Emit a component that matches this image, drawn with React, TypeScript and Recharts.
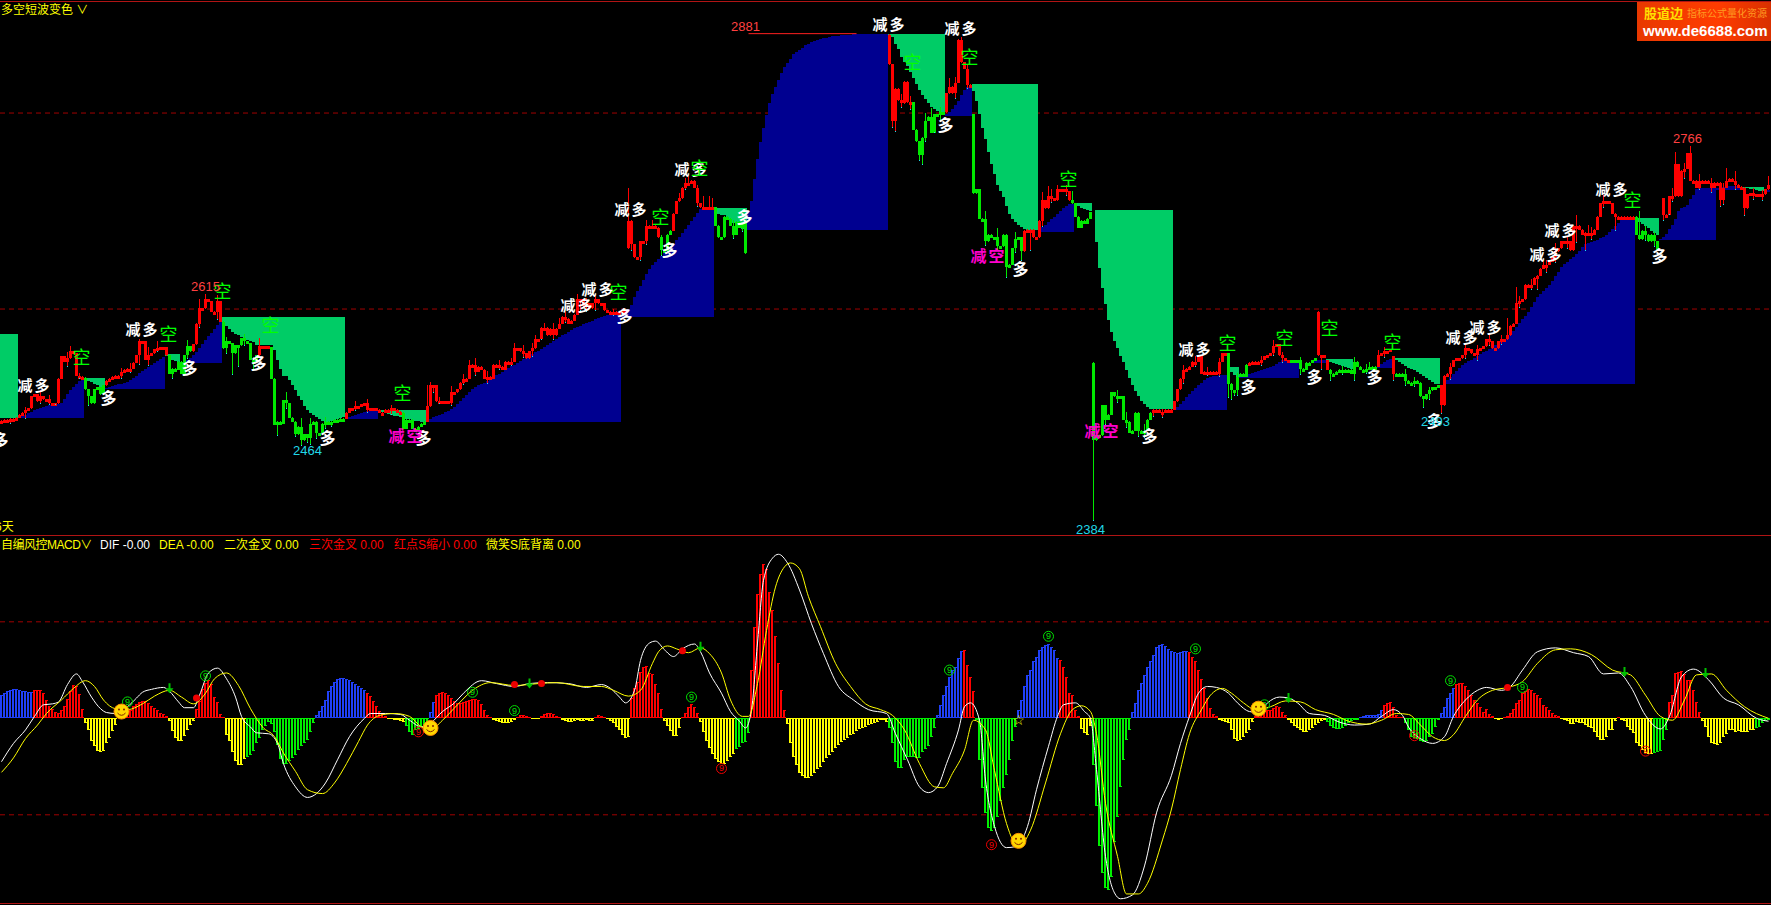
import { Bar, CartesianGrid, Cell, ComposedChart, Line, ReferenceDot, ReferenceLine, XAxis, YAxis } from "recharts";

const barCount = 590;
const chartWidth = 1770;

// trailing-stop blocks: "long" grows up from a base, "short" hangs from a ceiling
const bandBlocks = [
  { kind: "short", start: 0, edge: 2575, levels: [2489, 2489, 2489, 2489, 2489, 2489] },
  { kind: "long", start: 6, edge: 2489, levels: [2490, 2491, 2492, 2494, 2495, 2497, 2498, 2499, 2500, 2501, 2502, 2502, 2502, 2503, 2504, 2508, 2513, 2517, 2520, 2524, 2527, 2530] },
  { kind: "short", start: 28, edge: 2530, levels: [2528, 2527, 2526, 2524, 2522, 2520, 2519] },
  { kind: "long", start: 35, edge: 2518, levels: [2519, 2520, 2521, 2522, 2523, 2524, 2525, 2526, 2528, 2530, 2532, 2535, 2537, 2539, 2541, 2543, 2545, 2547, 2549, 2551] },
  { kind: "short", start: 55, edge: 2554, levels: [2552, 2550, 2548, 2547, 2546] },
  { kind: "long", start: 60, edge: 2545, levels: [2546, 2547, 2548, 2550, 2553, 2556, 2560, 2564, 2568, 2572, 2576, 2580, 2584, 2587] },
  { kind: "short", start: 74, edge: 2592, levels: [2585, 2583, 2580, 2577, 2575, 2573, 2571, 2569, 2568, 2567, 2566, 2563, 2563, 2563, 2563, 2563, 2563, 2558, 2548, 2539, 2532, 2532, 2528, 2522, 2517, 2511, 2507, 2501, 2497, 2494, 2492, 2490, 2488, 2486, 2485, 2485, 2486, 2487, 2488, 2489, 2490] },
  { kind: "long", start: 115, edge: 2488, levels: [2489, 2490, 2491, 2492, 2493, 2494, 2495, 2496, 2496, 2497, 2497] },
  { kind: "short", start: 126, edge: 2497, levels: [2496, 2495, 2494, 2493, 2492, 2491, 2491, 2490, 2489, 2488, 2488, 2487, 2486, 2486, 2485, 2485] },
  { kind: "long", start: 142, edge: 2485, levels: [2486, 2488, 2490, 2491, 2492, 2493, 2495, 2496, 2498, 2500, 2503, 2506, 2509, 2512, 2515, 2518, 2520, 2522, 2524, 2525, 2527, 2529, 2531, 2533, 2534, 2536, 2538, 2540, 2542, 2543, 2545, 2547, 2549, 2551, 2552, 2554, 2556, 2557, 2559, 2561, 2563, 2565, 2567, 2569, 2571, 2573, 2575, 2577, 2579, 2581, 2582, 2583, 2585, 2586, 2587, 2588, 2590, 2591, 2592, 2593, 2594, 2594, 2595, 2595, 2596] },
  { kind: "long", start: 207, edge: 2592, levels: [2594, 2597, 2600, 2604, 2612, 2618, 2624, 2630, 2636, 2641, 2645, 2648, 2651, 2654, 2657, 2660, 2663, 2666, 2670, 2674, 2678, 2682, 2686, 2690, 2694, 2698, 2702, 2704, 2704, 2704, 2703] },
  { kind: "short", start: 238, edge: 2703, levels: [2700, 2697, 2696, 2696, 2694, 2691, 2688, 2686, 2684, 2682, 2681] },
  { kind: "long", start: 249, edge: 2681, levels: [2700, 2710, 2733, 2753, 2770, 2785, 2798, 2810, 2819, 2827, 2834, 2841, 2847, 2851, 2855, 2860, 2862, 2864, 2866, 2869, 2870, 2872, 2873, 2875, 2876, 2877, 2877, 2878, 2879, 2879, 2879, 2880, 2880, 2880, 2880, 2881, 2881, 2881, 2881, 2881, 2881, 2881, 2881, 2881, 2881, 2881, 2881] },
  { kind: "short", start: 296, edge: 2881, levels: [2880, 2878, 2870, 2865, 2857, 2852, 2848, 2842, 2836, 2830, 2824, 2818, 2814, 2810, 2806, 2804, 2802, 2801, 2800] },
  { kind: "long", start: 315, edge: 2797, levels: [2799, 2801, 2804, 2808, 2812, 2818, 2824, 2827, 2828] },
  { kind: "short", start: 324, edge: 2830, levels: [2822, 2812, 2799, 2785, 2773, 2760, 2748, 2738, 2727, 2720, 2714, 2705, 2697, 2692, 2689, 2686, 2684, 2682, 2681, 2681, 2681, 2681] },
  { kind: "long", start: 346, edge: 2679, levels: [2681, 2684, 2686, 2689, 2692, 2694, 2697, 2700, 2703, 2705, 2707, 2707] },
  { kind: "short", start: 358, edge: 2708, levels: [2706, 2705, 2703, 2702, 2701, 2700] },
  { kind: "short", start: 365, edge: 2701, levels: [2668, 2642, 2621, 2605, 2589, 2577, 2567, 2560, 2552, 2546, 2538, 2530, 2522, 2516, 2511, 2506, 2503, 2500, 2498, 2498, 2498, 2498, 2498, 2498, 2498, 2498] },
  { kind: "long", start: 391, edge: 2497, levels: [2498, 2500, 2503, 2506, 2510, 2513, 2516, 2519, 2522, 2525, 2528, 2530, 2531, 2532, 2532, 2533, 2533, 2533] },
  { kind: "short", start: 409, edge: 2541, levels: [2540, 2536, 2533, 2531] },
  { kind: "long", start: 413, edge: 2530, levels: [2531, 2532, 2533, 2534, 2535, 2536, 2537, 2538, 2539, 2540, 2541, 2542, 2544, 2546, 2548, 2548, 2548, 2548, 2548, 2548] },
  { kind: "long", start: 437, edge: 2545, levels: [2548, 2548, 2548, 2548, 2548] },
  { kind: "short", start: 442, edge: 2549, levels: [2547, 2546, 2545, 2544, 2543, 2542, 2541, 2540, 2539] },
  { kind: "long", start: 459, edge: 2540, levels: [2542, 2544, 2546, 2548, 2549] },
  { kind: "short", start: 464, edge: 2550, levels: [2549, 2548, 2546, 2544, 2542, 2540, 2539, 2538, 2536, 2534, 2532, 2530, 2528, 2526, 2524, 2523] },
  { kind: "long", start: 480, edge: 2523, levels: [2524, 2526, 2528, 2531, 2534, 2537, 2540, 2543, 2545, 2547, 2548, 2550, 2552, 2554, 2556, 2557, 2559, 2561, 2563, 2565, 2567, 2569, 2572, 2575, 2578, 2582, 2586, 2590, 2593, 2597, 2602, 2607, 2612, 2615, 2618, 2621, 2625, 2629, 2634, 2638, 2643, 2646, 2648, 2651, 2653, 2656, 2659, 2663, 2666, 2667, 2668, 2669, 2670, 2672, 2674, 2676, 2679, 2682, 2685, 2688, 2691, 2693, 2694, 2694, 2694] },
  { kind: "short", start: 545, edge: 2693, levels: [2691, 2689, 2687, 2685, 2683, 2680, 2678, 2676] },
  { kind: "long", start: 553, edge: 2670, levels: [2671, 2674, 2677, 2682, 2686, 2692, 2700, 2703, 2704, 2706, 2712, 2716, 2722, 2723, 2723, 2724, 2724, 2724, 2723] },
  { kind: "long", start: 572, edge: 2721, levels: [2723, 2724, 2725, 2725, 2726, 2726, 2726, 2726, 2725] },
  { kind: "short", start: 581, edge: 2725, levels: [2724, 2723, 2722, 2722, 2721, 2720, 2720] },
  { kind: "long", start: 588, edge: 2719, levels: [2721, 2721] },
];

const closeSegments = [
  { start: 0, values: [2486, 2487, 2486, 2488, 2487, 2489, 2492, 2494, 2497, 2499, 2511, 2513, 2506, 2511, 2508, 2508, 2504, 2503, 2504, 2529, 2552, 2546, 2550, 2557, 2555, 2532, 2531, 2530, 2518, 2511, 2504, 2518, 2520, 2513, 2522] },
  { start: 35, values: [2527, 2529, 2531, 2532, 2532, 2536, 2538, 2539, 2539, 2545, 2553, 2567, 2567, 2548, 2553, 2555, 2559, 2560, 2561, 2561, 2553, 2534, 2539, 2538, 2546, 2534, 2553, 2562, 2557, 2564, 2585, 2601, 2601, 2610, 2608, 2597, 2597, 2608, 2587] },
  { start: 74, values: [2560, 2567, 2565, 2555, 2563, 2563, 2570, 2567, 2565, 2548, 2546, 2553, 2562, 2562, 2562, 2561, 2529, 2482, 2485, 2483, 2507, 2504, 2489, 2485, 2472, 2480, 2466, 2472, 2468, 2483, 2485, 2473, 2473, 2483, 2485, 2485, 2485, 2487, 2487, 2488, 2488] },
  { start: 115, values: [2494, 2499, 2499, 2501, 2501, 2503, 2504, 2497, 2499, 2499, 2497, 2494, 2494, 2497, 2497, 2499, 2497, 2495, 2494, 2478, 2487, 2487, 2478, 2476, 2480, 2483, 2485] },
  { start: 142, values: [2501, 2522, 2522, 2506, 2506, 2506, 2506, 2504, 2515, 2515, 2518, 2525, 2529, 2529, 2543, 2543, 2536, 2541, 2538, 2529, 2531, 2529, 2543, 2543, 2541, 2538, 2546, 2546, 2546, 2560, 2560, 2557, 2555, 2550, 2557, 2560, 2569, 2569, 2581, 2581, 2573, 2580, 2573, 2580, 2585, 2592, 2590, 2585, 2588, 2594, 2610, 2610, 2603, 2606] },
  { start: 196, values: [2601, 2606, 2610, 2606, 2606, 2599, 2597, 2597, 2597, 2597, 2596, 2599, 2599] },
  { start: 209, values: [2690, 2666, 2653, 2653, 2669, 2669, 2685, 2685, 2685, 2683, 2673, 2660, 2659, 2676, 2680, 2697, 2710, 2713, 2724, 2729, 2729, 2731, 2724, 2708, 2704, 2704, 2704, 2704, 2704] },
  { start: 238, values: [2685, 2673, 2673, 2694, 2692, 2685, 2676, 2689, 2683, 2687, 2657] },
  { start: 296, values: [2850, 2792, 2825, 2813, 2810, 2832, 2811, 2811, 2783, 2771, 2757, 2775, 2792, 2796, 2780, 2799, 2799, 2801, 2801, 2820, 2827, 2820, 2831, 2875, 2852, 2845, 2829, 2829] },
  { start: 324, values: [2718, 2722, 2692, 2692, 2669, 2676, 2673, 2673, 2664, 2664, 2676, 2643, 2645, 2662, 2671, 2673, 2659, 2680, 2681, 2681, 2673, 2673] },
  { start: 346, values: [2690, 2711, 2703, 2715, 2713, 2711, 2722, 2722, 2722, 2720, 2711, 2708, 2694, 2683, 2690, 2687, 2692, 2699, 2466] },
  { start: 365, values: [2471, 2471, 2502, 2487, 2492, 2515, 2511, 2511, 2511, 2487, 2485, 2474, 2476, 2494, 2476, 2474, 2476, 2487, 2494, 2497, 2497, 2495, 2494, 2497, 2495, 2497] },
  { start: 391, values: [2506, 2518, 2529, 2538, 2539, 2541, 2546, 2546, 2552, 2534, 2536, 2536, 2536, 2536, 2534, 2546, 2555, 2555] },
  { start: 409, values: [2524, 2517, 2517, 2531, 2534, 2531, 2543] },
  { start: 416, values: [2545, 2546, 2546, 2546, 2548, 2552, 2553, 2555, 2562, 2564, 2553, 2550, 2548, 2548, 2548, 2548, 2548, 2539, 2538, 2545, 2545, 2548, 2550] },
  { start: 439, values: [2553, 2553, 2553, 2538] },
  { start: 443, values: [2534, 2534, 2536, 2538, 2538, 2536, 2538, 2534, 2546, 2541, 2538, 2538, 2539, 2541, 2541, 2541, 2553, 2555, 2557, 2557, 2559, 2534] },
  { start: 465, values: [2531, 2534, 2534, 2527, 2525, 2525, 2527, 2525, 2511, 2508, 2513, 2517, 2520, 2520, 2522, 2502] },
  { start: 481, values: [2532, 2534, 2541, 2548, 2550, 2550, 2553, 2560, 2559, 2555, 2553, 2559, 2560, 2562, 2569, 2567, 2560, 2560, 2567, 2569, 2569, 2573, 2583, 2585, 2606, 2608, 2610, 2625, 2625, 2625, 2632, 2634, 2641, 2645, 2645, 2648, 2653, 2659, 2662, 2669, 2669, 2669, 2660, 2685, 2685, 2681, 2676, 2678, 2678, 2676, 2681, 2694, 2708, 2710, 2710, 2708, 2697, 2694, 2694, 2694, 2694, 2694, 2694, 2694] },
  { start: 545, values: [2676, 2671, 2680, 2676, 2669, 2676, 2669, 2660] },
  { start: 554, values: [2696, 2696, 2715, 2715, 2748, 2715, 2741, 2743, 2759, 2731, 2731, 2724, 2731, 2729, 2731, 2729, 2724, 2729, 2729, 2711, 2724, 2731, 2733, 2731, 2727, 2725, 2725, 2703, 2717, 2718, 2717, 2717, 2715, 2717, 2722, 2727] },
];

// bars whose open does not sit on the previous close
const gapOpens = [[209, 2662], [296, 2880], [324, 2799], [364, 2545], [439, 2597], [442, 2548], [464, 2552], [480, 2522], [554, 2713], [581, 2724]];
const wickHighs = [[23, 2562], [46, 2569], [68, 2615], [142, 2522], [143, 2525], [156, 2548], [171, 2565], [178, 2573], [181, 2585], [186, 2590], [192, 2615], [209, 2723], [217, 2690], [226, 2718], [229, 2735], [234, 2715], [236, 2715], [237, 2713], [310, 2805], [316, 2835], [320, 2877], [349, 2725], [352, 2726], [357, 2720], [456, 2545], [459, 2558], [502, 2590], [505, 2622], [514, 2650], [525, 2695], [529, 2685], [546, 2700], [558, 2760], [563, 2766], [575, 2743], [589, 2735]];
const wickLows = [[3, 2483], [18, 2518], [29, 2502], [46, 2543], [57, 2529], [77, 2533], [79, 2541], [92, 2471], [98, 2470], [102, 2464], [105, 2468], [110, 2480], [144, 2515], [180, 2573], [193, 2598], [210, 2660], [213, 2650], [222, 2665], [297, 2785], [298, 2781], [306, 2752], [307, 2747], [311, 2780], [335, 2632], [340, 2650], [343, 2660], [364, 2384], [368, 2482], [379, 2470], [384, 2490], [409, 2510], [410, 2508], [411, 2512], [440, 2538], [443, 2527], [464, 2527], [474, 2500], [480, 2493], [512, 2620], [525, 2668], [528, 2660], [538, 2680], [554, 2690], [556, 2706], [573, 2705], [581, 2695]];
// short shadows on ordinary bars: bar, points above the body, points below it
const smallWicks = [[8, 3, 6], [13, 6, 3], [16, 4, 2], [22, 6, 5], [26, 3, 2], [40, 4, 3], [43, 6, 4], [49, 8, 6], [52, 7, 3], [62, 6, 4], [66, 9, 4], [72, 6, 8], [75, 4, 6], [81, 5, 5], [84, 3, 8], [86, 8, 3], [95, 8, 6], [100, 9, 6], [103, 6, 7], [108, 5, 5], [118, 5, 3], [122, 4, 3], [130, 3, 5], [146, 4, 3], [150, 6, 3], [154, 5, 3], [158, 7, 4], [162, 6, 5], [166, 5, 3], [170, 4, 4], [174, 6, 5], [177, 5, 6], [184, 6, 5], [188, 5, 4], [195, 5, 6], [198, 4, 8], [204, 3, 4], [215, 6, 4], [220, 3, 6], [228, 5, 3], [232, 3, 4], [244, 6, 5], [247, 2, 4], [300, 6, 5], [303, 6, 8], [308, 8, 5], [313, 5, 7], [318, 6, 6], [322, 4, 4], [328, 8, 5], [332, 10, 5], [338, 8, 5], [347, 8, 6], [350, 7, 5], [355, 5, 5], [372, 6, 7], [375, 8, 6], [381, 7, 6], [387, 3, 5], [394, 5, 6], [398, 6, 5], [402, 5, 4], [406, 4, 3], [412, 4, 6], [420, 4, 4], [424, 6, 3], [427, 3, 5], [433, 3, 6], [447, 4, 5], [451, 5, 7], [455, 5, 4], [461, 4, 5], [468, 5, 6], [471, 4, 5], [476, 3, 6], [483, 4, 6], [488, 5, 4], [492, 4, 6], [496, 5, 5], [500, 4, 4], [506, 5, 5], [510, 6, 6], [515, 5, 8], [518, 8, 6], [522, 6, 8], [530, 6, 6], [534, 6, 5], [548, 5, 7], [551, 3, 6], [557, 8, 6], [561, 6, 8], [566, 7, 3], [570, 5, 6], [574, 5, 5], [578, 10, 6], [584, 6, 6], [587, 4, 5]];
const greenCandleRuns = [[28, 34], [56, 63], [74, 85], [90, 114], [134, 141], [220, 223], [238, 248], [304, 314], [324, 340], [357, 383], [409, 415], [430, 438], [443, 458], [465, 479], [545, 552]];

const macdRuns = [
  { kind: "blue", start: 0, values: [24, 26, 28, 29, 30, 30, 29, 28, 28, 27, 27] },
  { kind: "red", start: 11, values: [29, 29, 29, 26, 19, 13, 10, 7, 5, 9, 13, 20, 28, 35, 33, 25, 10] },
  { kind: "yellow", start: 28, values: [-5, -12, -24, -29, -34, -35, -34, -26, -20, -13, -7] },
  { kind: "red", start: 39, values: [2, 4, 5, 7, 9, 13, 15, 17, 18, 18, 16, 13, 11, 9, 6, 4, 2] },
  { kind: "yellow", start: 56, values: [-3, -13, -20, -23, -23, -18, -12, -7, -3] },
  { kind: "red", start: 65, values: [10, 18, 30, 37, 40, 36, 22, 17, 4, 1] },
  { kind: "yellow", start: 75, values: [-17, -24, -35, -44, -48, -48, -42] },
  { kind: "green", start: 82, values: [-40, -38, -34, -26, -20, -12, -8, -4, -6, -14, -28, -42, -47, -47, -44, -41, -38, -33, -29, -26, -22, -14, -5] },
  { kind: "blue", start: 105, values: [3, 8, 13, 19, 28, 33, 38, 41, 42, 42, 41, 40, 38, 36, 34, 31, 29] },
  { kind: "red", start: 122, values: [26, 23, 18, 13, 8, 4, 2] },
  { kind: "yellow", start: 129, values: [-1, -1, -2, -2, -3, -4] },
  { kind: "green", start: 135, values: [-8, -14, -17, -12, -11, -9, -7, -5] },
  { kind: "blue", start: 143, values: [7, 17] },
  { kind: "red", start: 145, values: [24, 26, 27, 26, 24, 21, 18, 16, 16, 17, 18, 19, 20, 20, 19, 15, 9, 3, 1] },
  { kind: "yellow", start: 164, values: [-2, -3, -4, -5, -5, -5, -4, -2] },
  { kind: "red", start: 172, values: [1, 3, 3, 2, 1] },
  { kind: "yellow", start: 177, values: [-1, -1, -1] },
  { kind: "red", start: 180, values: [2, 4, 5, 5, 4, 2, 1] },
  { kind: "yellow", start: 187, values: [-2, -3, -4, -4, -3, -2, -3, -3, -2, -3, -3] },
  { kind: "red", start: 198, values: [1, 3, 2, 1] },
  { kind: "yellow", start: 202, values: [-1, -3, -5, -9, -12, -17, -20, -19] },
  { kind: "red", start: 210, values: [21, 31, 38, 48, 53, 54, 47, 46, 36, 26, 10] },
  { kind: "yellow", start: 221, values: [-3, -8, -13, -18, -18, -10] },
  { kind: "red", start: 227, values: [1, 5, 12, 15, 12, 6] },
  { kind: "yellow", start: 233, values: [-4, -14, -23, -31, -37, -42, -45, -47, -47, -44, -40, -37] },
  { kind: "green", start: 245, values: [-32, -30, -26, -25, -15] },
  { kind: "red", start: 250, values: [50, 95, 129, 150, 160, 155, 131, 112, 85, 57, 29, 9] },
  { kind: "yellow", start: 262, values: [-6, -26, -40, -48, -57, -60, -62, -62, -60, -57, -53, -50, -45, -41, -38, -35, -31, -28, -25, -22, -20, -17, -16, -13, -11, -10, -9, -7, -6, -5, -4, -2, -2, -4] },
  { kind: "green", start: 296, values: [-10, -26, -45, -52, -52, -43, -40, -40, -40, -41, -41, -35, -32, -29, -19, -10] },
  { kind: "blue", start: 312, values: [3, 14, 24, 33, 43, 50, 53, 62, 70] },
  { kind: "red", start: 321, values: [71, 55, 43, 28] },
  { kind: "green", start: 325, values: [-2, -43, -72, -98, -114, -117, -114, -102, -86, -72, -59, -43, -24, -9] },
  { kind: "blue", start: 339, values: [9, 19, 33, 45, 50, 59, 64, 71, 74, 76, 77, 74, 71, 62] },
  { kind: "red", start: 353, values: [60, 53, 43, 26, 24, 9, 2] },
  { kind: "yellow", start: 360, values: [-11, -15, -17, -8] },
  { kind: "green", start: 364, values: [-48, -91, -132, -160, -176, -178, -164, -128, -102, -71, -43, -22, -12] },
  { kind: "blue", start: 377, values: [7, 16, 29, 37, 45, 53, 59, 66, 74, 76, 77, 75, 72, 70, 69, 68, 69, 70, 70] },
  { kind: "red", start: 396, values: [69, 64, 59, 50, 41, 31, 21, 11, 4, 2] },
  { kind: "yellow", start: 406, values: [-2, -3, -4, -5, -12, -21, -23, -22, -19, -15, -12, -4] },
  { kind: "red", start: 418, values: [2, 5, 6, 8, 9, 9, 11, 13, 12, 7, 3] },
  { kind: "yellow", start: 429, values: [-2, -5, -8, -10, -12, -14, -14, -12, -10, -7, -5, -3, -2] },
  { kind: "green", start: 442, values: [-4, -8, -10, -11, -11, -10, -8, -5, -3, -2, -2] },
  { kind: "blue", start: 453, values: [1, 2, 3, 3, 3, 3, 4, 9] },
  { kind: "red", start: 461, values: [14, 16, 17, 12, 3, 1, 1] },
  { kind: "green", start: 468, values: [-5, -12, -19, -20, -21, -24, -25, -24, -19, -16, -9, -2] },
  { kind: "blue", start: 480, values: [5, 12, 21, 26, 31] },
  { kind: "red", start: 485, values: [36, 37, 37, 33, 29, 24, 19, 16, 12, 7, 10, 4, 2] },
  { kind: "yellow", start: 498, values: [-1, -2, -1] },
  { kind: "red", start: 501, values: [1, 2, 5, 10, 16, 19, 26, 28, 30, 29, 26, 24, 21, 14, 12, 9, 5, 3, 2] },
  { kind: "yellow", start: 520, values: [-1, -2, -3, -6, -6, -4, -5, -5, -7, -9, -10, -14, -19, -22, -22, -19, -12, -12, -3] },
  { kind: "red", start: 539, values: [1] },
  { kind: "yellow", start: 540, values: [-2, -3, -9, -12, -15, -26, -29, -33, -36, -37, -37] },
  { kind: "green", start: 551, values: [-36, -35, -34, -22, -12] },
  { kind: "red", start: 556, values: [17, 24, 47, 48, 49, 46, 40, 40, 29, 17, 7] },
  { kind: "yellow", start: 567, values: [-3, -9, -19, -26, -27, -28, -26, -19, -16, -12, -12, -14, -13, -14, -14, -14, -12, -12] },
  { kind: "green", start: 585, values: [-10, -9, -5, -3, -2] },
];

const difPoints = [
  [0, -45], [4, -26], [8, -12], [11, 2], [14, 14], [17, 15], [19, 17], [22, 35], [25, 46], [27, 38], [30, 22], [33, 10], [35, 6], [38, 5], [42, 12], [45, 21], [47, 27], [50, 30], [54, 32], [56, 28], [59, 17], [61, 11], [64, 11], [66, 24], [69, 47], [72, 52], [75, 41], [78, 22], [80, 2], [83, -9], [85, -15], [89, -16], [92, -26], [94, -47], [98, -71], [102, -82], [105, -78], [108, -67], [112, -43], [116, -19], [121, 0], [123, 5], [128, 5], [133, 4], [136, -2], [140, -9], [143, -5], [147, 7], [151, 16], [154, 26], [160, 39], [165, 36], [171, 33], [176, 36], [182, 37], [189, 36], [195, 32],
  [200, 35], [203, 31], [206, 22], [208, 16], [211, 29], [213, 60], [216, 78], [218, 80], [221, 71], [224, 64], [227, 72], [231, 77], [233, 69], [236, 47], [240, 26], [243, 7], [246, -3], [248, -10], [250, 9], [252, 78], [254, 143], [257, 166], [259, 170], [262, 161], [266, 133], [270, 98], [274, 67], [279, 33], [284, 19], [289, 9], [295, 5], [298, -16], [302, -43], [306, -71], [309, -77], [312, -71], [315, -47], [319, -12], [321, 12], [323, 16], [326, -2], [328, -64], [331, -112], [335, -134], [338, -133], [342, -112], [345, -74], [349, -29], [352, 2], [354, 14], [358, 16], [361, 7], [363, 0], [365, -53], [368, -143], [371, -181], [373, -187], [377, -183], [381, -153], [385, -98],
  [390, -59], [393, -26], [396, 2], [399, 26], [402, 33], [405, 32], [409, 26], [412, 16], [416, 7], [419, 6], [422, 16], [426, 22], [429, 21], [432, 16], [436, 5], [441, 3], [446, -4], [451, -7], [456, -6], [460, 2], [464, 9], [467, 3], [469, -9], [473, -21], [477, -26], [481, -19], [484, 2], [488, 19], [492, 29], [495, 32], [500, 29], [503, 33], [507, 50], [512, 69], [518, 73], [524, 68], [529, 64], [534, 46], [539, 47], [543, 33], [548, 3], [553, -11], [556, 2], [560, 43], [564, 51], [569, 40], [574, 21], [579, 14], [585, 0], [589, -3],
];

const deaPoints = [
  [0, -56], [4, -41], [8, -21], [12, -7], [15, 5], [20, 19], [24, 31], [28, 39], [31, 33], [34, 19], [38, 10], [42, 9], [47, 15], [51, 23], [56, 29], [60, 22], [64, 15], [68, 26], [71, 41], [75, 47], [79, 34], [83, 10], [87, -9], [91, -19], [94, -36], [98, -55], [102, -74], [107, -78], [111, -67], [115, -47], [119, -24], [122, -7], [126, 3], [131, 5], [136, 2], [140, -9], [143, -12], [147, -2], [152, 14], [157, 29], [163, 37], [171, 34], [179, 36], [185, 37], [194, 33],
  [200, 33], [204, 29], [209, 23], [213, 29], [217, 57], [219, 69], [222, 75], [225, 72], [229, 68], [233, 73], [236, 67], [240, 47], [243, 19], [247, 2], [249, 2], [252, 36], [255, 91], [258, 136], [261, 157], [263, 161], [266, 155], [269, 126], [273, 95], [278, 57], [283, 33], [288, 15], [293, 9], [297, 3], [301, -12], [306, -47], [311, -71], [314, -72], [317, -57], [321, -33], [324, -2], [328, -12], [331, -54], [335, -109], [339, -133], [343, -116], [348, -67], [353, -16], [357, 9], [360, 13], [363, 7], [365, -16], [368, -88], [372, -143], [375, -182], [379, -182], [382, -171], [387, -126],
  [390, -94], [393, -53], [396, -16], [400, 9], [403, 24], [407, 31], [410, 26], [414, 16], [418, 9], [423, 12], [428, 18], [433, 17], [438, 9], [444, 4], [449, -3], [455, -6], [460, -2], [465, 5], [469, 4], [473, -7], [477, -19], [481, -23], [484, -17], [488, 2], [492, 19], [497, 29], [502, 32], [507, 38], [512, 57], [518, 71], [523, 72], [530, 66], [537, 50], [543, 45], [548, 24], [553, 2], [557, -2], [561, 19], [565, 45], [570, 46], [575, 29], [581, 12], [589, 0],
];

const smileMarks = [[40, 7], [143, -10], [339, -127], [419, 10]];
const nineGreenMarks = [[42, 17], [68, 44], [157, 27], [171, 8], [230, 22], [316, 50], [349, 85], [398, 72], [483, 39], [507, 32], [421, 14]];
const nineRedMarks = [[139, -14], [240, -52], [330, -131], [471, -18], [548, -34]];
const arrowMarks = [[56, 29], [176, 34], [233, 72], [429, 19], [541, 46], [568, 45]];
const redDotMarks = [[65, 21], [171, 35], [180, 36], [227, 70], [502, 32]];
const starMarks = [[339, -2]];

const reduceLongSignals = [[11, 2522], [47, 2579], [192, 2604], [199, 2620], [210, 2702], [230, 2742], [296, 2890], [320, 2886], [398, 2559], [487, 2571], [495, 2581], [515, 2656], [520, 2680], [537, 2722]];
const shortSignals = [[27, 2550], [56, 2573], [74, 2617], [90, 2583], [134, 2513], [206, 2616], [220, 2693], [233, 2743], [304, 2851], [323, 2856], [356, 2732], [409, 2564], [428, 2569], [443, 2580], [464, 2565], [544, 2710]];
const longSignals = [[0, 2466], [36, 2509], [63, 2539], [86, 2544], [109, 2468], [141, 2468], [208, 2592], [223, 2660], [248, 2693], [315, 2787], [340, 2640], [383, 2470], [416, 2520], [438, 2530], [458, 2530], [478, 2485], [553, 2654]];
const reduceShortSignals = [[135, 2470], [329, 2654], [367, 2475]];
const highLabels = [[248, 2888, "2881"], [68, 2623, "2615"], [562, 2774, "2766"]];
const lowLabels = [[102, 2456, "2464"], [363, 2375, "2384"], [478, 2485, "2493"]];

const macdHeader = [
  { left: 100, color: "#ffffff", text: "DIF -0.00" },
  { left: 159, color: "#ffff00", text: "DEA -0.00" },
  { left: 224, color: "#ffff00", text: "二次金叉 0.00" },
  { left: 309, color: "#ff0000", text: "三次金叉 0.00" },
  { left: 394, color: "#ff0000", text: "红点S缩小 0.00" },
  { left: 486, color: "#ffff00", text: "微笑S底背离 0.00" },
];

const histColors: any = { blue: "#2040f8", red: "#ff0000", yellow: "#ffff00", green: "#00f000" };
const fontStack = '"Liberation Sans", "Noto Sans CJK SC", sans-serif';

const rows: any[] = [];
for (let i = 0; i < barCount; i++) rows.push({ i, band: null, bandKind: null, range: null, hist: null, histKind: null, dif: null, dea: null });

bandBlocks.forEach((block) => {
  block.levels.forEach((level, n) => {
    const row = rows[block.start + n];
    row.band = [Math.min(block.edge, level), Math.max(block.edge, level)];
    row.bandKind = block.kind;
  });
});

const closes: any[] = new Array(barCount).fill(null);
closeSegments.forEach((seg) => seg.values.forEach((v, n) => (closes[seg.start + n] = v)));
const openOf = new Map(gapOpens.map((p) => [p[0], p[1]]));
const highOf = new Map(wickHighs.map((p) => [p[0], p[1]]));
const lowOf = new Map(wickLows.map((p) => [p[0], p[1]]));
const smallOf = new Map(smallWicks.map((p) => [p[0], p]));

closes.forEach((close, i) => {
  if (close == null) return;
  const open = openOf.get(i) ?? closes[i - 1] ?? close;
  const small = smallOf.get(i);
  const row = rows[i];
  row.open = open;
  row.close = close;
  row.hasLow = lowOf.has(i) || !!small;
  row.range = [
    Math.min(open, close, lowOf.get(i) ?? close) - (small ? small[2] : 0.5),
    Math.max(open, close, highOf.get(i) ?? close) + (small ? small[1] : 0.5),
  ];
  row.isGreen = greenCandleRuns.some((run) => i >= run[0] && i <= run[1]);
});

macdRuns.forEach((run) => {
  run.values.forEach((v, n) => {
    rows[run.start + n].hist = v;
    rows[run.start + n].histKind = run.kind;
  });
});
difPoints.forEach((p) => (rows[p[0]].dif = p[1]));
deaPoints.forEach((p) => (rows[p[0]].dea = p[1]));

const CandleShape = (props: any) => {
  const { x, y, height, payload } = props;
  if (!payload.range) return null;
  const [low, high] = payload.range;
  const k = height / (high - low);
  const top = y + (high - Math.max(payload.open, payload.close)) * k;
  const bodyH = Math.max(Math.abs(payload.open - payload.close) * k, 3);
  const color = payload.isGreen ? "#00e800" : "#ff0000";
  const hollow = payload.close > payload.open && bodyH > 5;
  return (
    <g shapeRendering="crispEdges">
      <rect x={x + 1} y={y} width={1} height={height} fill={color} />
      {hollow ? (
        <rect x={x + 0.5} y={top + 0.5} width={2} height={bodyH - 1} fill="none" stroke={color} />
      ) : (
        <rect x={x} y={top} width={3} height={bodyH} fill={color} />
      )}
      {payload.hasLow && <rect x={x + 1} y={y + height - 1} width={1} height={1} fill="#20e0f0" />}
    </g>
  );
};

const MacdShape = (props: any) => {
  const { x, y, height, payload } = props;
  if (payload.hist == null) return null;
  const color = histColors[payload.histKind];
  const top = Math.min(y, y + height);
  const h = Math.abs(height);
  return (
    <g shapeRendering="crispEdges" fill={color}>
      <rect x={x} y={top} width={2} height={h} />
      <rect x={x} y={top} width={3} height={1} />
      <rect x={x} y={top + h - 1} width={3} height={1} />
    </g>
  );
};

const signalDot = (key: string, i: number, price: number, draw: (cx: number, cy: number) => any) => (
  <ReferenceDot key={key} x={i} y={price} r={0} ifOverflow="visible" shape={(p: any) => draw(p.cx, p.cy)} />
);

const signalText = (text: string, color: string, weight: number, size: number) => (cx: number, cy: number) => (
  <text x={cx} y={cy} fill={color} fontSize={size} fontWeight={weight} letterSpacing={2} textAnchor="middle" dominantBaseline="central" fontFamily={fontStack}>
    {text}
  </text>
);

const numberText = (text: string, color: string) => (cx: number, cy: number) => (
  <text x={cx} y={cy} fill={color} fontSize={13} textAnchor="middle" dominantBaseline="central" fontFamily={fontStack}>
    {text}
  </text>
);

const drawNine = (color: string) => (cx: number, cy: number) => (
  <g>
    <circle cx={cx} cy={cy} r={5} fill="none" stroke={color} />
    <text x={cx} y={cy} fill={color} fontSize={9} textAnchor="middle" dominantBaseline="central" fontFamily={fontStack}>9</text>
  </g>
);

const drawSmile = (cx: number, cy: number) => (
  <g>
    <circle cx={cx} cy={cy} r={7.5} fill="#ffd800" stroke="#ff8c00" strokeWidth={1} />
    <circle cx={cx - 2.5} cy={cy - 2} r={1} fill="#802000" />
    <circle cx={cx + 2.5} cy={cy - 2} r={1} fill="#802000" />
    <path d={`M${cx - 4} ${cy + 1.5} Q${cx} ${cy + 6} ${cx + 4} ${cy + 1.5}`} fill="none" stroke="#802000" />
  </g>
);

const drawArrow = (cx: number, cy: number) => (
  <path d={`M${cx - 1} ${cy - 7} h2 v5 h3 l-4 5 l-4 -5 h3 z`} fill="#00c000" />
);

const drawRedDot = (cx: number, cy: number) => <circle cx={cx} cy={cy} r={3.5} fill="#ee0000" />;

const drawStar = (cx: number, cy: number) => (
  <text x={cx} y={cy} fill="#ffff00" fontSize={14} textAnchor="middle" dominantBaseline="central" fontFamily="DejaVu Sans">☆</text>
);

const priceDomain = [2368.4, 2913.3];
const priceLayerStyle: any = { position: "absolute", left: 0, top: 2 };
const header: any = { position: "absolute", whiteSpace: "nowrap", fontSize: 12, lineHeight: "14px", fontFamily: fontStack };

const App = () => {
  return (
    <div style={{ position: "absolute", left: 0, top: 0, width: 1771, height: 905, background: "#000", overflow: "hidden" }}>
      <div style={{ position: "absolute", left: 0, top: 1, width: 1771, height: 1, background: "#b01414" }} />
      <div style={{ position: "absolute", left: 0, top: 535, width: 1771, height: 1, background: "#b01414" }} />
      <div style={{ position: "absolute", left: 0, top: 903, width: 1771, height: 1, background: "#b01414" }} />

      <div style={priceLayerStyle}>
        <ComposedChart width={chartWidth} height={534} data={rows} margin={{ top: 0, right: 0, bottom: 0, left: 0 }} barCategoryGap={0} barGap={0}>
          <CartesianGrid vertical={false} horizontalValues={[2600, 2800]} stroke="#a00000" strokeDasharray="5 4" />
          <XAxis dataKey="i" hide />
          <YAxis hide domain={priceDomain} allowDataOverflow />
          <Bar dataKey="band" barSize={3} isAnimationActive={false} shapeRendering="crispEdges">
            {rows.map((row) => (
              <Cell key={row.i} fill={row.bandKind === "long" ? "#000090" : "#00cc66"} />
            ))}
          </Bar>
        </ComposedChart>
      </div>

      <div style={priceLayerStyle}>
        <ComposedChart width={chartWidth} height={534} data={rows} margin={{ top: 0, right: 0, bottom: 0, left: 0 }} barCategoryGap={0} barGap={0}>
          <XAxis dataKey="i" hide />
          <YAxis hide domain={priceDomain} allowDataOverflow />
          <Bar dataKey="range" barSize={3} isAnimationActive={false} shape={CandleShape} />
          <ReferenceLine segment={[{ x: 249, y: 2881 }, { x: 285, y: 2881 }]} stroke="#ff2020" ifOverflow="visible" />
          {reduceLongSignals.map((s, n) => signalDot(`rl${n}`, s[0], s[1], signalText("减多", "#ffffff", 700, 15)))}
          {shortSignals.map((s, n) => signalDot(`sh${n}`, s[0], s[1], signalText("空", "#00ff00", 400, 18)))}
          {longSignals.map((s, n) => signalDot(`lg${n}`, s[0], s[1], signalText("多", "#ffffff", 700, 16)))}
          {reduceShortSignals.map((s, n) => signalDot(`rs${n}`, s[0], s[1], signalText("减空", "#ff00cc", 700, 16)))}
          {highLabels.map((s: any, n) => signalDot(`hi${n}`, s[0], s[1], numberText(s[2], "#ff4040")))}
          {lowLabels.map((s: any, n) => signalDot(`lo${n}`, s[0], s[1], numberText(s[2], "#20d8e8")))}
        </ComposedChart>
      </div>

      <div style={{ position: "absolute", left: 0, top: 537 }}>
        <ComposedChart width={chartWidth} height={366} data={rows} margin={{ top: 0, right: 0, bottom: 0, left: 0 }} barCategoryGap={0} barGap={0}>
          <CartesianGrid vertical={false} horizontalValues={[-100, 100]} stroke="#a00000" strokeDasharray="5 4" />
          <XAxis dataKey="i" hide />
          <YAxis hide domain={[-191.4, 187.9]} allowDataOverflow />
          <Bar dataKey="hist" barSize={3} isAnimationActive={false} shape={MacdShape} />
          <Line dataKey="dif" type="monotone" stroke="#ffffff" strokeWidth={1} dot={false} connectNulls isAnimationActive={false} />
          <Line dataKey="dea" type="monotone" stroke="#ffff00" strokeWidth={1} dot={false} connectNulls isAnimationActive={false} />
          {nineGreenMarks.map((m, n) => signalDot(`ng${n}`, m[0], m[1], drawNine("#00e000")))}
          {nineRedMarks.map((m, n) => signalDot(`nr${n}`, m[0], m[1], drawNine("#f00000")))}
          {arrowMarks.map((m, n) => signalDot(`ar${n}`, m[0], m[1], drawArrow))}
          {redDotMarks.map((m, n) => signalDot(`rd${n}`, m[0], m[1], drawRedDot))}
          {starMarks.map((m, n) => signalDot(`st${n}`, m[0], m[1], drawStar))}
          {smileMarks.map((m, n) => signalDot(`sm${n}`, m[0], m[1], drawSmile))}
        </ComposedChart>
      </div>

      <div style={{ ...header, left: 1, top: 3, color: "#ffff00" }}>多空短波变色 ∨</div>
      <div style={{ ...header, left: -5, top: 520, color: "#ffff00" }}>6天</div>
      <div style={{ ...header, left: 1, top: 538, color: "#ffff00", letterSpacing: -0.5 }}>自编风控MACD∨</div>
      {macdHeader.map((h) => (
        <div key={h.left} style={{ ...header, left: h.left, top: 538, color: h.color }}>{h.text}</div>
      ))}

      <div style={{ position: "absolute", left: 1637, top: 2, width: 134, height: 39, background: "linear-gradient(90deg,#e83800,#ff3c00 60%,#d83000)", fontFamily: fontStack, whiteSpace: "nowrap" }}>
        <div style={{ position: "absolute", left: 7, top: 4, fontSize: 13, lineHeight: "15px", fontWeight: 700, color: "#ffe000" }}>股道边</div>
        <div style={{ position: "absolute", left: 50, top: 6, fontSize: 10, lineHeight: "12px", color: "#ff9a20" }}>指标公式量化资源</div>
        <div style={{ position: "absolute", left: 6, top: 20, fontSize: 15, lineHeight: "17px", fontWeight: 700, color: "#ffffff" }}>www.de6688.com</div>
      </div>
    </div>
  );
};

export default App;
